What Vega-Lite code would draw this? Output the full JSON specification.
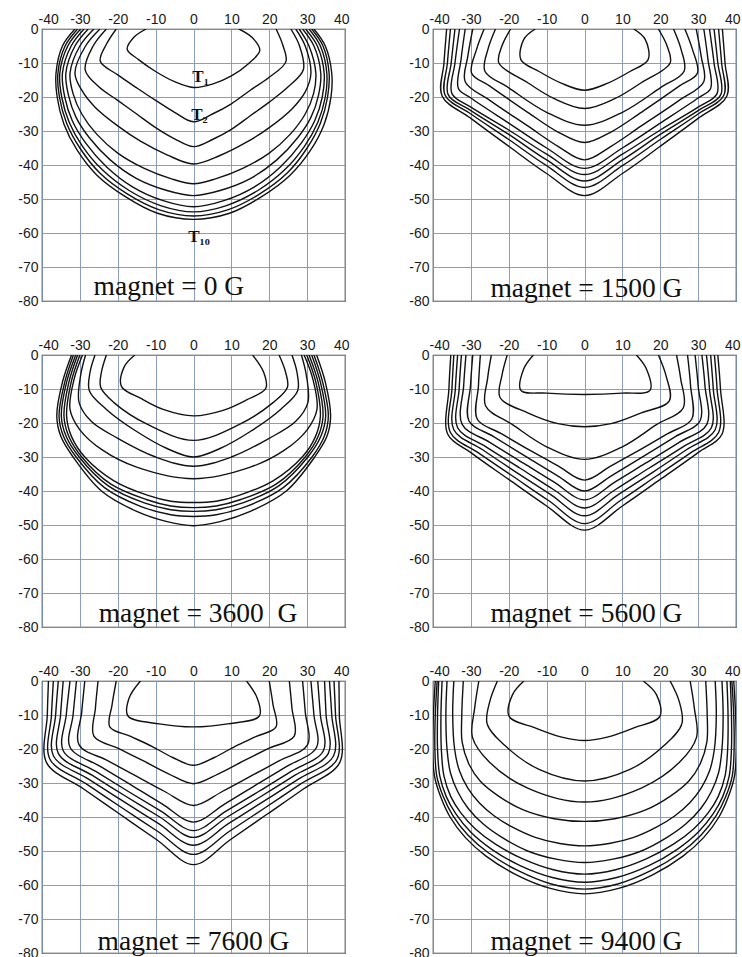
{
"$schema": "https://vega.github.io/schema/vega-lite/v6.json",
"background": "white",
"padding": {"left": 17, "top": 11, "right": 2, "bottom": 0},
"data": {"values": [
{"p":1,"c":1,"x":-12.5,"y":0},{"p":1,"c":1,"x":-15.8,"y":-2.5},{"p":1,"c":1,"x":-17.5,"y":-6},{"p":1,"c":1,"x":-14.5,"y":-9},{"p":1,"c":1,"x":-10,"y":-12.5},{"p":1,"c":1,"x":-5,"y":-15.5},{"p":1,"c":1,"x":0,"y":-17.2},{"p":1,"c":1,"x":5,"y":-16.2},{"p":1,"c":1,"x":10,"y":-13.8},{"p":1,"c":1,"x":14.5,"y":-10.2},{"p":1,"c":1,"x":17.5,"y":-6.3},{"p":1,"c":1,"x":15.5,"y":-2.5},{"p":1,"c":1,"x":12,"y":0},
{"p":1,"c":2,"x":-20.4,"y":0},{"p":1,"c":2,"x":-23,"y":-4.5},{"p":1,"c":2,"x":-24.6,"y":-9.5},{"p":1,"c":2,"x":-20,"y":-13.5},{"p":1,"c":2,"x":-15,"y":-17.3},{"p":1,"c":2,"x":-10,"y":-21},{"p":1,"c":2,"x":-5,"y":-24.5},{"p":1,"c":2,"x":0,"y":-27.3},{"p":1,"c":2,"x":5,"y":-25},{"p":1,"c":2,"x":10,"y":-22},{"p":1,"c":2,"x":15,"y":-18},{"p":1,"c":2,"x":20,"y":-14.2},{"p":1,"c":2,"x":24.4,"y":-9.6},{"p":1,"c":2,"x":23.5,"y":-4.5},{"p":1,"c":2,"x":21.8,"y":0},
{"p":1,"c":3,"x":-23,"y":0},{"p":1,"c":3,"x":-26.5,"y":-5},{"p":1,"c":3,"x":-28.6,"y":-12},{"p":1,"c":3,"x":-25,"y":-17},{"p":1,"c":3,"x":-20,"y":-21},{"p":1,"c":3,"x":-15,"y":-25},{"p":1,"c":3,"x":-10,"y":-29},{"p":1,"c":3,"x":-5,"y":-32.3},{"p":1,"c":3,"x":0,"y":-34.6},{"p":1,"c":3,"x":5,"y":-32.5},{"p":1,"c":3,"x":10,"y":-29.5},{"p":1,"c":3,"x":15,"y":-25.5},{"p":1,"c":3,"x":20,"y":-21.5},{"p":1,"c":3,"x":25,"y":-17},{"p":1,"c":3,"x":29,"y":-12},{"p":1,"c":3,"x":28,"y":-5},{"p":1,"c":3,"x":25.7,"y":0},
{"p":1,"c":4,"x":-24.7,"y":0},{"p":1,"c":4,"x":-28.5,"y":-5},{"p":1,"c":4,"x":-31.3,"y":-13},{"p":1,"c":4,"x":-29.5,"y":-18},{"p":1,"c":4,"x":-26,"y":-23},{"p":1,"c":4,"x":-20,"y":-28.5},{"p":1,"c":4,"x":-14,"y":-33},{"p":1,"c":4,"x":-7,"y":-37},{"p":1,"c":4,"x":0,"y":-39.7},{"p":1,"c":4,"x":7,"y":-37.2},{"p":1,"c":4,"x":14,"y":-33.3},{"p":1,"c":4,"x":20,"y":-29},{"p":1,"c":4,"x":26,"y":-23.5},{"p":1,"c":4,"x":29.5,"y":-18.5},{"p":1,"c":4,"x":31,"y":-13},{"p":1,"c":4,"x":29.5,"y":-5},{"p":1,"c":4,"x":27,"y":0},
{"p":1,"c":5,"x":-26.3,"y":0},{"p":1,"c":5,"x":-30,"y":-5},{"p":1,"c":5,"x":-32.6,"y":-13},{"p":1,"c":5,"x":-31.8,"y":-19},{"p":1,"c":5,"x":-29.5,"y":-25},{"p":1,"c":5,"x":-25.5,"y":-31},{"p":1,"c":5,"x":-20,"y":-36.5},{"p":1,"c":5,"x":-13,"y":-41},{"p":1,"c":5,"x":-6,"y":-44},{"p":1,"c":5,"x":0,"y":-45.5},{"p":1,"c":5,"x":6,"y":-44},{"p":1,"c":5,"x":13,"y":-41},{"p":1,"c":5,"x":20,"y":-36.5},{"p":1,"c":5,"x":25.5,"y":-31},{"p":1,"c":5,"x":29.5,"y":-25},{"p":1,"c":5,"x":31.7,"y":-19},{"p":1,"c":5,"x":32.3,"y":-13},{"p":1,"c":5,"x":30.5,"y":-5},{"p":1,"c":5,"x":27.9,"y":0},
{"p":1,"c":6,"x":-27.8,"y":0},{"p":1,"c":6,"x":-31.3,"y":-5},{"p":1,"c":6,"x":-33.7,"y":-13},{"p":1,"c":6,"x":-33,"y":-19.5},{"p":1,"c":6,"x":-31,"y":-26},{"p":1,"c":6,"x":-27.5,"y":-32},{"p":1,"c":6,"x":-22,"y":-38.5},{"p":1,"c":6,"x":-15,"y":-44},{"p":1,"c":6,"x":-7,"y":-47.5},{"p":1,"c":6,"x":0,"y":-49},{"p":1,"c":6,"x":7,"y":-47.5},{"p":1,"c":6,"x":15,"y":-44},{"p":1,"c":6,"x":22,"y":-38.5},{"p":1,"c":6,"x":27.5,"y":-32},{"p":1,"c":6,"x":31,"y":-26},{"p":1,"c":6,"x":33,"y":-19.5},{"p":1,"c":6,"x":33.6,"y":-13},{"p":1,"c":6,"x":31.8,"y":-5},{"p":1,"c":6,"x":28.8,"y":0},
{"p":1,"c":7,"x":-28.9,"y":0},{"p":1,"c":7,"x":-32.3,"y":-5},{"p":1,"c":7,"x":-34.6,"y":-13},{"p":1,"c":7,"x":-34,"y":-20},{"p":1,"c":7,"x":-32,"y":-27},{"p":1,"c":7,"x":-28.5,"y":-33.5},{"p":1,"c":7,"x":-23,"y":-40.5},{"p":1,"c":7,"x":-16,"y":-46.5},{"p":1,"c":7,"x":-8,"y":-50.5},{"p":1,"c":7,"x":0,"y":-52.3},{"p":1,"c":7,"x":8,"y":-50.5},{"p":1,"c":7,"x":16,"y":-46.5},{"p":1,"c":7,"x":23,"y":-40.5},{"p":1,"c":7,"x":28.5,"y":-33.5},{"p":1,"c":7,"x":32,"y":-27},{"p":1,"c":7,"x":34,"y":-20},{"p":1,"c":7,"x":34.5,"y":-13},{"p":1,"c":7,"x":32.7,"y":-5},{"p":1,"c":7,"x":29.6,"y":0},
{"p":1,"c":8,"x":-29.8,"y":0},{"p":1,"c":8,"x":-33.2,"y":-5},{"p":1,"c":8,"x":-35.3,"y":-13},{"p":1,"c":8,"x":-34.8,"y":-20},{"p":1,"c":8,"x":-32.8,"y":-27.5},{"p":1,"c":8,"x":-29.3,"y":-34.5},{"p":1,"c":8,"x":-24,"y":-41.5},{"p":1,"c":8,"x":-17,"y":-47.5},{"p":1,"c":8,"x":-8.5,"y":-52},{"p":1,"c":8,"x":0,"y":-53.8},{"p":1,"c":8,"x":8.5,"y":-52},{"p":1,"c":8,"x":17,"y":-47.5},{"p":1,"c":8,"x":24,"y":-41.5},{"p":1,"c":8,"x":29.3,"y":-34.5},{"p":1,"c":8,"x":32.8,"y":-27.5},{"p":1,"c":8,"x":34.8,"y":-20},{"p":1,"c":8,"x":35.2,"y":-13},{"p":1,"c":8,"x":33.5,"y":-5},{"p":1,"c":8,"x":30.5,"y":0},
{"p":1,"c":9,"x":-30.6,"y":0},{"p":1,"c":9,"x":-33.9,"y":-5},{"p":1,"c":9,"x":-35.8,"y":-13},{"p":1,"c":9,"x":-35.4,"y":-20},{"p":1,"c":9,"x":-33.5,"y":-27.7},{"p":1,"c":9,"x":-30,"y":-35},{"p":1,"c":9,"x":-24.8,"y":-42.3},{"p":1,"c":9,"x":-17.5,"y":-48.5},{"p":1,"c":9,"x":-9,"y":-53.2},{"p":1,"c":9,"x":0,"y":-55},{"p":1,"c":9,"x":9,"y":-53.2},{"p":1,"c":9,"x":17.5,"y":-48.5},{"p":1,"c":9,"x":24.8,"y":-42.3},{"p":1,"c":9,"x":30,"y":-35},{"p":1,"c":9,"x":33.5,"y":-27.7},{"p":1,"c":9,"x":35.4,"y":-20},{"p":1,"c":9,"x":35.8,"y":-13},{"p":1,"c":9,"x":34.2,"y":-5},{"p":1,"c":9,"x":31.2,"y":0},
{"p":1,"c":10,"x":-31.3,"y":0},{"p":1,"c":10,"x":-34.6,"y":-5},{"p":1,"c":10,"x":-36.3,"y":-13},{"p":1,"c":10,"x":-36,"y":-20},{"p":1,"c":10,"x":-34.2,"y":-28},{"p":1,"c":10,"x":-30.8,"y":-35.5},{"p":1,"c":10,"x":-25.5,"y":-43},{"p":1,"c":10,"x":-18,"y":-49.3},{"p":1,"c":10,"x":-9.5,"y":-54.2},{"p":1,"c":10,"x":0,"y":-56},{"p":1,"c":10,"x":9.5,"y":-54.2},{"p":1,"c":10,"x":18,"y":-49.3},{"p":1,"c":10,"x":25.5,"y":-43},{"p":1,"c":10,"x":31,"y":-35.5},{"p":1,"c":10,"x":34.5,"y":-28},{"p":1,"c":10,"x":36.3,"y":-20},{"p":1,"c":10,"x":36.5,"y":-13},{"p":1,"c":10,"x":34.8,"y":-5},{"p":1,"c":10,"x":31.8,"y":0},

{"p":2,"c":1,"x":-13,"y":0},{"p":2,"c":1,"x":-16,"y":-3},{"p":2,"c":1,"x":-16.8,"y":-9},{"p":2,"c":1,"x":-12,"y":-12.5},{"p":2,"c":1,"x":-6,"y":-16},{"p":2,"c":1,"x":0,"y":-18},{"p":2,"c":1,"x":6,"y":-16},{"p":2,"c":1,"x":12,"y":-12.5},{"p":2,"c":1,"x":16.8,"y":-9},{"p":2,"c":1,"x":16,"y":-3},{"p":2,"c":1,"x":13,"y":0},
{"p":2,"c":2,"x":-19.5,"y":0},{"p":2,"c":2,"x":-21.8,"y":-5},{"p":2,"c":2,"x":-22.6,"y":-10},{"p":2,"c":2,"x":-15,"y":-15.8},{"p":2,"c":2,"x":-8,"y":-20.5},{"p":2,"c":2,"x":0,"y":-23.4},{"p":2,"c":2,"x":8,"y":-20.5},{"p":2,"c":2,"x":15,"y":-15.8},{"p":2,"c":2,"x":22.6,"y":-10},{"p":2,"c":2,"x":21.8,"y":-5},{"p":2,"c":2,"x":19.5,"y":0},
{"p":2,"c":3,"x":-23.5,"y":0},{"p":2,"c":3,"x":-25.5,"y":-6},{"p":2,"c":3,"x":-26.3,"y":-12.4},{"p":2,"c":3,"x":-20,"y":-17.3},{"p":2,"c":3,"x":-10,"y":-24.5},{"p":2,"c":3,"x":0,"y":-28.3},{"p":2,"c":3,"x":10,"y":-24.5},{"p":2,"c":3,"x":20,"y":-17.3},{"p":2,"c":3,"x":26.3,"y":-12.4},{"p":2,"c":3,"x":25.5,"y":-6},{"p":2,"c":3,"x":23.5,"y":0},
{"p":2,"c":4,"x":-26.5,"y":0},{"p":2,"c":4,"x":-28.5,"y":-6},{"p":2,"c":4,"x":-29.8,"y":-13},{"p":2,"c":4,"x":-25,"y":-16.8},{"p":2,"c":4,"x":-15,"y":-24.5},{"p":2,"c":4,"x":-7,"y":-30.3},{"p":2,"c":4,"x":0,"y":-33.4},{"p":2,"c":4,"x":7,"y":-30.3},{"p":2,"c":4,"x":15,"y":-24.5},{"p":2,"c":4,"x":25,"y":-16.8},{"p":2,"c":4,"x":29.8,"y":-13},{"p":2,"c":4,"x":28.5,"y":-6},{"p":2,"c":4,"x":26.5,"y":0},
{"p":2,"c":5,"x":-29.5,"y":0},{"p":2,"c":5,"x":-30.8,"y":-8},{"p":2,"c":5,"x":-31.5,"y":-15.5},{"p":2,"c":5,"x":-25,"y":-21},{"p":2,"c":5,"x":-15,"y":-28.5},{"p":2,"c":5,"x":-7,"y":-34.5},{"p":2,"c":5,"x":0,"y":-38.5},{"p":2,"c":5,"x":7,"y":-34.5},{"p":2,"c":5,"x":15,"y":-28.5},{"p":2,"c":5,"x":25,"y":-21},{"p":2,"c":5,"x":31.5,"y":-15.5},{"p":2,"c":5,"x":30.8,"y":-8},{"p":2,"c":5,"x":29.5,"y":0},
{"p":2,"c":6,"x":-31.5,"y":0},{"p":2,"c":6,"x":-32.6,"y":-9},{"p":2,"c":6,"x":-33.3,"y":-17.5},{"p":2,"c":6,"x":-30,"y":-20.3},{"p":2,"c":6,"x":-20,"y":-27.7},{"p":2,"c":6,"x":-10,"y":-35},{"p":2,"c":6,"x":0,"y":-41},{"p":2,"c":6,"x":10,"y":-35},{"p":2,"c":6,"x":20,"y":-27.7},{"p":2,"c":6,"x":30,"y":-20.3},{"p":2,"c":6,"x":33.3,"y":-17.5},{"p":2,"c":6,"x":32.6,"y":-9},{"p":2,"c":6,"x":31.5,"y":0},
{"p":2,"c":7,"x":-33,"y":0},{"p":2,"c":7,"x":-34.2,"y":-10},{"p":2,"c":7,"x":-35,"y":-19},{"p":2,"c":7,"x":-30,"y":-23},{"p":2,"c":7,"x":-20,"y":-29.7},{"p":2,"c":7,"x":-10,"y":-36.8},{"p":2,"c":7,"x":0,"y":-42.8},{"p":2,"c":7,"x":10,"y":-36.8},{"p":2,"c":7,"x":20,"y":-29.7},{"p":2,"c":7,"x":30,"y":-23},{"p":2,"c":7,"x":35,"y":-19},{"p":2,"c":7,"x":34.2,"y":-10},{"p":2,"c":7,"x":33,"y":0},
{"p":2,"c":8,"x":-34.2,"y":0},{"p":2,"c":8,"x":-35.2,"y":-10},{"p":2,"c":8,"x":-36,"y":-19.3},{"p":2,"c":8,"x":-30,"y":-24},{"p":2,"c":8,"x":-20,"y":-31},{"p":2,"c":8,"x":-10,"y":-38.5},{"p":2,"c":8,"x":0,"y":-44.7},{"p":2,"c":8,"x":10,"y":-38.5},{"p":2,"c":8,"x":20,"y":-31},{"p":2,"c":8,"x":30,"y":-24},{"p":2,"c":8,"x":36,"y":-19.3},{"p":2,"c":8,"x":35.2,"y":-10},{"p":2,"c":8,"x":34.2,"y":0},
{"p":2,"c":9,"x":-35.4,"y":0},{"p":2,"c":9,"x":-36.2,"y":-10},{"p":2,"c":9,"x":-36.8,"y":-19.5},{"p":2,"c":9,"x":-30,"y":-25},{"p":2,"c":9,"x":-20,"y":-32.5},{"p":2,"c":9,"x":-10,"y":-40.2},{"p":2,"c":9,"x":0,"y":-46.6},{"p":2,"c":9,"x":10,"y":-40.2},{"p":2,"c":9,"x":20,"y":-32.5},{"p":2,"c":9,"x":30,"y":-25},{"p":2,"c":9,"x":36.8,"y":-19.5},{"p":2,"c":9,"x":36.2,"y":-10},{"p":2,"c":9,"x":35.4,"y":0},
{"p":2,"c":10,"x":-36.4,"y":0},{"p":2,"c":10,"x":-37.1,"y":-10},{"p":2,"c":10,"x":-37.6,"y":-19.7},{"p":2,"c":10,"x":-30,"y":-26.3},{"p":2,"c":10,"x":-20,"y":-34.5},{"p":2,"c":10,"x":-10,"y":-42.5},{"p":2,"c":10,"x":0,"y":-49},{"p":2,"c":10,"x":10,"y":-42.5},{"p":2,"c":10,"x":20,"y":-34.5},{"p":2,"c":10,"x":30,"y":-26.3},{"p":2,"c":10,"x":37.6,"y":-19.7},{"p":2,"c":10,"x":37.1,"y":-10},{"p":2,"c":10,"x":36.4,"y":0},

{"p":3,"c":1,"x":-15.5,"y":0},{"p":3,"c":1,"x":-18.3,"y":-3.5},{"p":3,"c":1,"x":-19,"y":-9.3},{"p":3,"c":1,"x":-14,"y":-12.7},{"p":3,"c":1,"x":-8,"y":-16},{"p":3,"c":1,"x":0,"y":-17.9},{"p":3,"c":1,"x":8,"y":-16.2},{"p":3,"c":1,"x":14,"y":-13.2},{"p":3,"c":1,"x":19.1,"y":-9.8},{"p":3,"c":1,"x":18.5,"y":-5},{"p":3,"c":1,"x":15.6,"y":0},
{"p":3,"c":2,"x":-23,"y":0},{"p":3,"c":2,"x":-24.3,"y":-5},{"p":3,"c":2,"x":-24.5,"y":-9.5},{"p":3,"c":2,"x":-21,"y":-14},{"p":3,"c":2,"x":-12,"y":-20.5},{"p":3,"c":2,"x":0,"y":-25.1},{"p":3,"c":2,"x":12,"y":-20.5},{"p":3,"c":2,"x":21,"y":-14},{"p":3,"c":2,"x":24.8,"y":-9.5},{"p":3,"c":2,"x":24.3,"y":-5},{"p":3,"c":2,"x":22.6,"y":0},
{"p":3,"c":3,"x":-26,"y":0},{"p":3,"c":3,"x":-27.3,"y":-5},{"p":3,"c":3,"x":-27.5,"y":-10.5},{"p":3,"c":3,"x":-23,"y":-16},{"p":3,"c":3,"x":-15,"y":-22.5},{"p":3,"c":3,"x":-7,"y":-27.5},{"p":3,"c":3,"x":0,"y":-30},{"p":3,"c":3,"x":7,"y":-27.5},{"p":3,"c":3,"x":15,"y":-22.5},{"p":3,"c":3,"x":23,"y":-16},{"p":3,"c":3,"x":27.5,"y":-10.5},{"p":3,"c":3,"x":27.3,"y":-5},{"p":3,"c":3,"x":26,"y":0},
{"p":3,"c":4,"x":-28.5,"y":0},{"p":3,"c":4,"x":-29.8,"y":-6},{"p":3,"c":4,"x":-30.2,"y":-14},{"p":3,"c":4,"x":-27,"y":-19.5},{"p":3,"c":4,"x":-20,"y":-24.5},{"p":3,"c":4,"x":-10,"y":-30},{"p":3,"c":4,"x":0,"y":-32.7},{"p":3,"c":4,"x":10,"y":-30},{"p":3,"c":4,"x":20,"y":-24.5},{"p":3,"c":4,"x":27,"y":-19.5},{"p":3,"c":4,"x":30.2,"y":-14},{"p":3,"c":4,"x":29.8,"y":-6},{"p":3,"c":4,"x":28.5,"y":0},
{"p":3,"c":5,"x":-29.3,"y":0},{"p":3,"c":5,"x":-31.5,"y":-7},{"p":3,"c":5,"x":-32.6,"y":-16},{"p":3,"c":5,"x":-30,"y":-22},{"p":3,"c":5,"x":-24,"y":-28},{"p":3,"c":5,"x":-15,"y":-33},{"p":3,"c":5,"x":0,"y":-36.4},{"p":3,"c":5,"x":15,"y":-33},{"p":3,"c":5,"x":24,"y":-28},{"p":3,"c":5,"x":30,"y":-22},{"p":3,"c":5,"x":32.6,"y":-16},{"p":3,"c":5,"x":31.5,"y":-7},{"p":3,"c":5,"x":29.2,"y":0},
{"p":3,"c":6,"x":-30,"y":0},{"p":3,"c":6,"x":-32.3,"y":-8},{"p":3,"c":6,"x":-33.5,"y":-18},{"p":3,"c":6,"x":-32.2,"y":-24},{"p":3,"c":6,"x":-28.7,"y":-30},{"p":3,"c":6,"x":-21,"y":-37},{"p":3,"c":6,"x":-12,"y":-41.3},{"p":3,"c":6,"x":-6,"y":-43},{"p":3,"c":6,"x":0,"y":-43.4},{"p":3,"c":6,"x":6,"y":-43},{"p":3,"c":6,"x":12,"y":-41.3},{"p":3,"c":6,"x":21,"y":-37},{"p":3,"c":6,"x":28.7,"y":-30},{"p":3,"c":6,"x":32.2,"y":-24},{"p":3,"c":6,"x":33.5,"y":-18},{"p":3,"c":6,"x":32.3,"y":-8},{"p":3,"c":6,"x":29.9,"y":0},
{"p":3,"c":7,"x":-30.6,"y":0},{"p":3,"c":7,"x":-32.9,"y":-8},{"p":3,"c":7,"x":-34.2,"y":-18},{"p":3,"c":7,"x":-32.9,"y":-24},{"p":3,"c":7,"x":-29.5,"y":-30},{"p":3,"c":7,"x":-21.8,"y":-38},{"p":3,"c":7,"x":-12.5,"y":-42.5},{"p":3,"c":7,"x":-6,"y":-44.4},{"p":3,"c":7,"x":0,"y":-44.9},{"p":3,"c":7,"x":6,"y":-44.4},{"p":3,"c":7,"x":12.5,"y":-42.5},{"p":3,"c":7,"x":21.8,"y":-38},{"p":3,"c":7,"x":29.5,"y":-30},{"p":3,"c":7,"x":32.9,"y":-24},{"p":3,"c":7,"x":34.2,"y":-18},{"p":3,"c":7,"x":32.9,"y":-8},{"p":3,"c":7,"x":30.5,"y":0},
{"p":3,"c":8,"x":-31.1,"y":0},{"p":3,"c":8,"x":-33.5,"y":-8},{"p":3,"c":8,"x":-34.9,"y":-18},{"p":3,"c":8,"x":-33.6,"y":-24},{"p":3,"c":8,"x":-30.2,"y":-30},{"p":3,"c":8,"x":-22.5,"y":-38.5},{"p":3,"c":8,"x":-13,"y":-43.5},{"p":3,"c":8,"x":-6,"y":-45.5},{"p":3,"c":8,"x":0,"y":-46},{"p":3,"c":8,"x":6,"y":-45.5},{"p":3,"c":8,"x":13,"y":-43.5},{"p":3,"c":8,"x":22.5,"y":-38.5},{"p":3,"c":8,"x":30.2,"y":-30},{"p":3,"c":8,"x":33.6,"y":-24},{"p":3,"c":8,"x":34.9,"y":-18},{"p":3,"c":8,"x":33.5,"y":-8},{"p":3,"c":8,"x":31.2,"y":0},
{"p":3,"c":9,"x":-31.7,"y":0},{"p":3,"c":9,"x":-34,"y":-8},{"p":3,"c":9,"x":-35.5,"y":-18},{"p":3,"c":9,"x":-34.3,"y":-24},{"p":3,"c":9,"x":-31,"y":-30},{"p":3,"c":9,"x":-23.5,"y":-39},{"p":3,"c":9,"x":-14,"y":-44.5},{"p":3,"c":9,"x":-6,"y":-47},{"p":3,"c":9,"x":0,"y":-47.5},{"p":3,"c":9,"x":6,"y":-47},{"p":3,"c":9,"x":14,"y":-44.5},{"p":3,"c":9,"x":23.7,"y":-39},{"p":3,"c":9,"x":31.3,"y":-30},{"p":3,"c":9,"x":34.5,"y":-24},{"p":3,"c":9,"x":35.6,"y":-18},{"p":3,"c":9,"x":34.1,"y":-8},{"p":3,"c":9,"x":31.8,"y":0},
{"p":3,"c":10,"x":-32.2,"y":0},{"p":3,"c":10,"x":-34.6,"y":-8},{"p":3,"c":10,"x":-36.1,"y":-18},{"p":3,"c":10,"x":-35,"y":-24},{"p":3,"c":10,"x":-31.8,"y":-30},{"p":3,"c":10,"x":-24.3,"y":-40},{"p":3,"c":10,"x":-15,"y":-46},{"p":3,"c":10,"x":-7,"y":-49},{"p":3,"c":10,"x":0,"y":-50.2},{"p":3,"c":10,"x":7,"y":-49},{"p":3,"c":10,"x":15,"y":-46},{"p":3,"c":10,"x":24.5,"y":-40},{"p":3,"c":10,"x":32,"y":-30},{"p":3,"c":10,"x":35.2,"y":-24},{"p":3,"c":10,"x":36.2,"y":-18},{"p":3,"c":10,"x":34.8,"y":-8},{"p":3,"c":10,"x":32.5,"y":0},

{"p":4,"c":1,"x":-13.5,"y":0},{"p":4,"c":1,"x":-16,"y":-4},{"p":4,"c":1,"x":-16.8,"y":-10.4},{"p":4,"c":1,"x":-10,"y":-11.2},{"p":4,"c":1,"x":0,"y":-11.6},{"p":4,"c":1,"x":10,"y":-11.2},{"p":4,"c":1,"x":17.3,"y":-10.4},{"p":4,"c":1,"x":16.3,"y":-4},{"p":4,"c":1,"x":13.7,"y":0},
{"p":4,"c":2,"x":-20.4,"y":0},{"p":4,"c":2,"x":-21.8,"y":-6},{"p":4,"c":2,"x":-22.3,"y":-12.5},{"p":4,"c":2,"x":-15,"y":-17},{"p":4,"c":2,"x":-7,"y":-20.2},{"p":4,"c":2,"x":0,"y":-21.1},{"p":4,"c":2,"x":7,"y":-20.2},{"p":4,"c":2,"x":15,"y":-17},{"p":4,"c":2,"x":22.4,"y":-13.5},{"p":4,"c":2,"x":21.5,"y":-6},{"p":4,"c":2,"x":19.5,"y":0},
{"p":4,"c":3,"x":-24.6,"y":0},{"p":4,"c":3,"x":-25.6,"y":-7},{"p":4,"c":3,"x":-26.1,"y":-15},{"p":4,"c":3,"x":-19,"y":-20.5},{"p":4,"c":3,"x":-10,"y":-27},{"p":4,"c":3,"x":0,"y":-30.7},{"p":4,"c":3,"x":10,"y":-27},{"p":4,"c":3,"x":19,"y":-20.5},{"p":4,"c":3,"x":26.1,"y":-15.5},{"p":4,"c":3,"x":25.4,"y":-7},{"p":4,"c":3,"x":24.3,"y":0},
{"p":4,"c":4,"x":-27.5,"y":0},{"p":4,"c":4,"x":-28,"y":-9},{"p":4,"c":4,"x":-28.3,"y":-18.9},{"p":4,"c":4,"x":-22,"y":-23.1},{"p":4,"c":4,"x":-14,"y":-28.3},{"p":4,"c":4,"x":-7,"y":-32.6},{"p":4,"c":4,"x":0,"y":-36.8},{"p":4,"c":4,"x":7,"y":-32.6},{"p":4,"c":4,"x":14,"y":-28.3},{"p":4,"c":4,"x":22,"y":-23.1},{"p":4,"c":4,"x":28.3,"y":-18.9},{"p":4,"c":4,"x":28,"y":-9},{"p":4,"c":4,"x":27.2,"y":0},
{"p":4,"c":5,"x":-29.5,"y":0},{"p":4,"c":5,"x":-30.1,"y":-9},{"p":4,"c":5,"x":-30.5,"y":-19.4},{"p":4,"c":5,"x":-24,"y":-24},{"p":4,"c":5,"x":-15,"y":-30.2},{"p":4,"c":5,"x":-7,"y":-35.6},{"p":4,"c":5,"x":0,"y":-40},{"p":4,"c":5,"x":7,"y":-35.6},{"p":4,"c":5,"x":15,"y":-30.2},{"p":4,"c":5,"x":24,"y":-24},{"p":4,"c":5,"x":30.5,"y":-19.4},{"p":4,"c":5,"x":30,"y":-9},{"p":4,"c":5,"x":29.2,"y":0},
{"p":4,"c":6,"x":-31.3,"y":0},{"p":4,"c":6,"x":-31.9,"y":-9},{"p":4,"c":6,"x":-32.3,"y":-20.4},{"p":4,"c":6,"x":-25,"y":-25.7},{"p":4,"c":6,"x":-16,"y":-31.9},{"p":4,"c":6,"x":-8,"y":-37.4},{"p":4,"c":6,"x":0,"y":-42.6},{"p":4,"c":6,"x":8,"y":-37.4},{"p":4,"c":6,"x":16,"y":-31.9},{"p":4,"c":6,"x":25,"y":-25.7},{"p":4,"c":6,"x":32.3,"y":-20.4},{"p":4,"c":6,"x":31.8,"y":-9},{"p":4,"c":6,"x":31,"y":0},
{"p":4,"c":7,"x":-32.5,"y":0},{"p":4,"c":7,"x":-33.1,"y":-10},{"p":4,"c":7,"x":-33.5,"y":-21.4},{"p":4,"c":7,"x":-26,"y":-27},{"p":4,"c":7,"x":-17,"y":-33.3},{"p":4,"c":7,"x":-8,"y":-39.7},{"p":4,"c":7,"x":0,"y":-45},{"p":4,"c":7,"x":8,"y":-39.7},{"p":4,"c":7,"x":17,"y":-33.3},{"p":4,"c":7,"x":26,"y":-27},{"p":4,"c":7,"x":33.5,"y":-21.4},{"p":4,"c":7,"x":33,"y":-10},{"p":4,"c":7,"x":32.2,"y":0},
{"p":4,"c":8,"x":-33.5,"y":0},{"p":4,"c":8,"x":-34.1,"y":-10},{"p":4,"c":8,"x":-34.5,"y":-22},{"p":4,"c":8,"x":-27,"y":-27.8},{"p":4,"c":8,"x":-18,"y":-34.5},{"p":4,"c":8,"x":-9,"y":-41},{"p":4,"c":8,"x":0,"y":-47.3},{"p":4,"c":8,"x":9,"y":-41},{"p":4,"c":8,"x":18,"y":-34.5},{"p":4,"c":8,"x":27,"y":-27.8},{"p":4,"c":8,"x":34.5,"y":-22},{"p":4,"c":8,"x":34,"y":-10},{"p":4,"c":8,"x":33.3,"y":0},
{"p":4,"c":9,"x":-34.5,"y":0},{"p":4,"c":9,"x":-35,"y":-10},{"p":4,"c":9,"x":-35.4,"y":-22.8},{"p":4,"c":9,"x":-28,"y":-28.8},{"p":4,"c":9,"x":-19,"y":-35.6},{"p":4,"c":9,"x":-9.5,"y":-42.8},{"p":4,"c":9,"x":0,"y":-49.6},{"p":4,"c":9,"x":9.5,"y":-42.8},{"p":4,"c":9,"x":19,"y":-35.6},{"p":4,"c":9,"x":28,"y":-28.8},{"p":4,"c":9,"x":35.4,"y":-22.8},{"p":4,"c":9,"x":35,"y":-10},{"p":4,"c":9,"x":34.3,"y":0},
{"p":4,"c":10,"x":-35.3,"y":0},{"p":4,"c":10,"x":-35.8,"y":-10},{"p":4,"c":10,"x":-36.1,"y":-23.3},{"p":4,"c":10,"x":-30,"y":-28.7},{"p":4,"c":10,"x":-20,"y":-36.6},{"p":4,"c":10,"x":-10,"y":-44.4},{"p":4,"c":10,"x":0,"y":-51.5},{"p":4,"c":10,"x":10,"y":-44.4},{"p":4,"c":10,"x":20,"y":-36.6},{"p":4,"c":10,"x":30,"y":-28.7},{"p":4,"c":10,"x":36.3,"y":-23.3},{"p":4,"c":10,"x":35.9,"y":-10},{"p":4,"c":10,"x":35.2,"y":0},

{"p":5,"c":1,"x":-14,"y":0},{"p":5,"c":1,"x":-17,"y":-5},{"p":5,"c":1,"x":-17.3,"y":-10.3},{"p":5,"c":1,"x":-9,"y":-12.6},{"p":5,"c":1,"x":0,"y":-13.5},{"p":5,"c":1,"x":9,"y":-12.6},{"p":5,"c":1,"x":17.4,"y":-10.3},{"p":5,"c":1,"x":16.8,"y":-5},{"p":5,"c":1,"x":14,"y":0},
{"p":5,"c":2,"x":-20.4,"y":0},{"p":5,"c":2,"x":-21.5,"y":-7},{"p":5,"c":2,"x":-22.1,"y":-13.5},{"p":5,"c":2,"x":-16.6,"y":-16.3},{"p":5,"c":2,"x":-11,"y":-19.2},{"p":5,"c":2,"x":-5.5,"y":-22.5},{"p":5,"c":2,"x":0,"y":-24.8},{"p":5,"c":2,"x":5.5,"y":-22.5},{"p":5,"c":2,"x":11,"y":-19.2},{"p":5,"c":2,"x":16.6,"y":-16.3},{"p":5,"c":2,"x":21.8,"y":-13.5},{"p":5,"c":2,"x":21,"y":-7},{"p":5,"c":2,"x":20,"y":0},
{"p":5,"c":3,"x":-25.2,"y":0},{"p":5,"c":3,"x":-25.9,"y":-8},{"p":5,"c":3,"x":-26.3,"y":-16.2},{"p":5,"c":3,"x":-19.7,"y":-19.9},{"p":5,"c":3,"x":-13.2,"y":-23.5},{"p":5,"c":3,"x":-6.6,"y":-27.3},{"p":5,"c":3,"x":0,"y":-30.2},{"p":5,"c":3,"x":6.6,"y":-27.3},{"p":5,"c":3,"x":13.2,"y":-23.5},{"p":5,"c":3,"x":19.7,"y":-19.9},{"p":5,"c":3,"x":26.6,"y":-16.2},{"p":5,"c":3,"x":26,"y":-8},{"p":5,"c":3,"x":25.3,"y":0},
{"p":5,"c":4,"x":-28.7,"y":0},{"p":5,"c":4,"x":-29.5,"y":-9},{"p":5,"c":4,"x":-30.2,"y":-18.8},{"p":5,"c":4,"x":-22.7,"y":-23.4},{"p":5,"c":4,"x":-15.1,"y":-28},{"p":5,"c":4,"x":-7.6,"y":-32.5},{"p":5,"c":4,"x":0,"y":-36.6},{"p":5,"c":4,"x":7.6,"y":-32.5},{"p":5,"c":4,"x":15.1,"y":-28},{"p":5,"c":4,"x":22.7,"y":-23.4},{"p":5,"c":4,"x":30.1,"y":-18.8},{"p":5,"c":4,"x":29.5,"y":-9},{"p":5,"c":4,"x":28.8,"y":0},
{"p":5,"c":5,"x":-30.9,"y":0},{"p":5,"c":5,"x":-31.8,"y":-10},{"p":5,"c":5,"x":-32.6,"y":-19.5},{"p":5,"c":5,"x":-24.5,"y":-25.2},{"p":5,"c":5,"x":-16.3,"y":-30.7},{"p":5,"c":5,"x":-8.2,"y":-36.2},{"p":5,"c":5,"x":0,"y":-41.5},{"p":5,"c":5,"x":8.2,"y":-36.2},{"p":5,"c":5,"x":16.3,"y":-30.7},{"p":5,"c":5,"x":24.5,"y":-25.2},{"p":5,"c":5,"x":32.5,"y":-19.5},{"p":5,"c":5,"x":31.8,"y":-10},{"p":5,"c":5,"x":31,"y":0},
{"p":5,"c":6,"x":-32.6,"y":0},{"p":5,"c":6,"x":-33.6,"y":-10},{"p":5,"c":6,"x":-34.4,"y":-20.5},{"p":5,"c":6,"x":-25.8,"y":-26.6},{"p":5,"c":6,"x":-17.2,"y":-32.5},{"p":5,"c":6,"x":-8.6,"y":-38.3},{"p":5,"c":6,"x":0,"y":-44},{"p":5,"c":6,"x":8.6,"y":-38.3},{"p":5,"c":6,"x":17.2,"y":-32.5},{"p":5,"c":6,"x":25.8,"y":-26.6},{"p":5,"c":6,"x":34.3,"y":-20.5},{"p":5,"c":6,"x":33.5,"y":-10},{"p":5,"c":6,"x":32.8,"y":0},
{"p":5,"c":7,"x":-34.4,"y":0},{"p":5,"c":7,"x":-35.1,"y":-10},{"p":5,"c":7,"x":-35.7,"y":-21.3},{"p":5,"c":7,"x":-26.8,"y":-27.7},{"p":5,"c":7,"x":-17.9,"y":-33.9},{"p":5,"c":7,"x":-8.9,"y":-40},{"p":5,"c":7,"x":0,"y":-46},{"p":5,"c":7,"x":8.9,"y":-40},{"p":5,"c":7,"x":17.9,"y":-33.9},{"p":5,"c":7,"x":26.8,"y":-27.7},{"p":5,"c":7,"x":35.6,"y":-21.3},{"p":5,"c":7,"x":35,"y":-10},{"p":5,"c":7,"x":34.6,"y":0},
{"p":5,"c":8,"x":-35.7,"y":0},{"p":5,"c":8,"x":-36.4,"y":-10},{"p":5,"c":8,"x":-37,"y":-22},{"p":5,"c":8,"x":-27.8,"y":-28.8},{"p":5,"c":8,"x":-18.5,"y":-35.4},{"p":5,"c":8,"x":-9.3,"y":-41.9},{"p":5,"c":8,"x":0,"y":-48.3},{"p":5,"c":8,"x":9.3,"y":-41.9},{"p":5,"c":8,"x":18.5,"y":-35.4},{"p":5,"c":8,"x":27.8,"y":-28.8},{"p":5,"c":8,"x":37,"y":-22},{"p":5,"c":8,"x":36.5,"y":-10},{"p":5,"c":8,"x":35.9,"y":0},
{"p":5,"c":9,"x":-37,"y":0},{"p":5,"c":9,"x":-37.5,"y":-10},{"p":5,"c":9,"x":-37.9,"y":-23},{"p":5,"c":9,"x":-28.4,"y":-30.2},{"p":5,"c":9,"x":-19,"y":-37.2},{"p":5,"c":9,"x":-9.5,"y":-44.2},{"p":5,"c":9,"x":0,"y":-51},{"p":5,"c":9,"x":9.5,"y":-44.2},{"p":5,"c":9,"x":19,"y":-37.2},{"p":5,"c":9,"x":28.4,"y":-30.2},{"p":5,"c":9,"x":37.9,"y":-23},{"p":5,"c":9,"x":37.5,"y":-10},{"p":5,"c":9,"x":37.1,"y":0},
{"p":5,"c":10,"x":-38.3,"y":0},{"p":5,"c":10,"x":-38.6,"y":-10},{"p":5,"c":10,"x":-38.8,"y":-24},{"p":5,"c":10,"x":-29.1,"y":-31.7},{"p":5,"c":10,"x":-19.4,"y":-39.2},{"p":5,"c":10,"x":-9.7,"y":-46.7},{"p":5,"c":10,"x":0,"y":-54},{"p":5,"c":10,"x":9.7,"y":-46.7},{"p":5,"c":10,"x":19.4,"y":-39.2},{"p":5,"c":10,"x":29.1,"y":-31.7},{"p":5,"c":10,"x":38.6,"y":-24},{"p":5,"c":10,"x":38.5,"y":-10},{"p":5,"c":10,"x":38.4,"y":0},

{"p":6,"c":1,"x":-16,"y":0},{"p":6,"c":1,"x":-19,"y":-4},{"p":6,"c":1,"x":-19.9,"y":-10.4},{"p":6,"c":1,"x":-13,"y":-13.8},{"p":6,"c":1,"x":-6,"y":-16.5},{"p":6,"c":1,"x":0,"y":-17.5},{"p":6,"c":1,"x":6,"y":-16.5},{"p":6,"c":1,"x":13,"y":-13.8},{"p":6,"c":1,"x":19.9,"y":-10.4},{"p":6,"c":1,"x":19,"y":-4},{"p":6,"c":1,"x":15.5,"y":0},
{"p":6,"c":2,"x":-23,"y":0},{"p":6,"c":2,"x":-25,"y":-6},{"p":6,"c":2,"x":-25.7,"y":-12.6},{"p":6,"c":2,"x":-21,"y":-19},{"p":6,"c":2,"x":-12,"y":-26},{"p":6,"c":2,"x":0,"y":-29.4},{"p":6,"c":2,"x":12,"y":-26},{"p":6,"c":2,"x":21,"y":-19},{"p":6,"c":2,"x":25.7,"y":-12.6},{"p":6,"c":2,"x":25,"y":-6},{"p":6,"c":2,"x":22.6,"y":0},
{"p":6,"c":3,"x":-27.9,"y":0},{"p":6,"c":3,"x":-29,"y":-8},{"p":6,"c":3,"x":-29.6,"y":-16.5},{"p":6,"c":3,"x":-25,"y":-24},{"p":6,"c":3,"x":-15,"y":-31.5},{"p":6,"c":3,"x":0,"y":-35.6},{"p":6,"c":3,"x":15,"y":-31.5},{"p":6,"c":3,"x":25,"y":-24},{"p":6,"c":3,"x":29.6,"y":-16.5},{"p":6,"c":3,"x":29,"y":-8},{"p":6,"c":3,"x":27.9,"y":0},
{"p":6,"c":4,"x":-32,"y":0},{"p":6,"c":4,"x":-32.4,"y":-10},{"p":6,"c":4,"x":-32.3,"y":-18},{"p":6,"c":4,"x":-30.5,"y":-24.5},{"p":6,"c":4,"x":-27.5,"y":-29.5},{"p":6,"c":4,"x":-22.5,"y":-34},{"p":6,"c":4,"x":-16,"y":-38},{"p":6,"c":4,"x":-8,"y":-40.5},{"p":6,"c":4,"x":0,"y":-41.3},{"p":6,"c":4,"x":8,"y":-40.5},{"p":6,"c":4,"x":16,"y":-38},{"p":6,"c":4,"x":22.5,"y":-34},{"p":6,"c":4,"x":27.5,"y":-29.5},{"p":6,"c":4,"x":30.5,"y":-24.5},{"p":6,"c":4,"x":32.3,"y":-18},{"p":6,"c":4,"x":32.4,"y":-10},{"p":6,"c":4,"x":32,"y":0},
{"p":6,"c":5,"x":-34.5,"y":0},{"p":6,"c":5,"x":-34.8,"y":-10},{"p":6,"c":5,"x":-34.3,"y":-20},{"p":6,"c":5,"x":-33,"y":-26.5},{"p":6,"c":5,"x":-30.8,"y":-31.5},{"p":6,"c":5,"x":-27.8,"y":-35.8},{"p":6,"c":5,"x":-23.8,"y":-39.7},{"p":6,"c":5,"x":-19,"y":-43},{"p":6,"c":5,"x":-13,"y":-46},{"p":6,"c":5,"x":-6.5,"y":-47.8},{"p":6,"c":5,"x":0,"y":-48.5},{"p":6,"c":5,"x":6.5,"y":-47.8},{"p":6,"c":5,"x":13,"y":-46},{"p":6,"c":5,"x":19,"y":-43},{"p":6,"c":5,"x":23.8,"y":-39.7},{"p":6,"c":5,"x":27.8,"y":-35.8},{"p":6,"c":5,"x":30.8,"y":-31.5},{"p":6,"c":5,"x":33,"y":-26.5},{"p":6,"c":5,"x":34.3,"y":-20},{"p":6,"c":5,"x":34.8,"y":-10},{"p":6,"c":5,"x":34.5,"y":0},
{"p":6,"c":6,"x":-36.3,"y":0},{"p":6,"c":6,"x":-36.6,"y":-10},{"p":6,"c":6,"x":-36.3,"y":-20},{"p":6,"c":6,"x":-35.4,"y":-27},{"p":6,"c":6,"x":-33.5,"y":-32.5},{"p":6,"c":6,"x":-30.7,"y":-37.5},{"p":6,"c":6,"x":-26.8,"y":-42},{"p":6,"c":6,"x":-21.8,"y":-46},{"p":6,"c":6,"x":-15,"y":-50},{"p":6,"c":6,"x":-7.5,"y":-52.4},{"p":6,"c":6,"x":0,"y":-53.4},{"p":6,"c":6,"x":7.5,"y":-52.4},{"p":6,"c":6,"x":15,"y":-50},{"p":6,"c":6,"x":21.8,"y":-46},{"p":6,"c":6,"x":26.8,"y":-42},{"p":6,"c":6,"x":30.7,"y":-37.5},{"p":6,"c":6,"x":33.5,"y":-32.5},{"p":6,"c":6,"x":35.4,"y":-27},{"p":6,"c":6,"x":36.3,"y":-20},{"p":6,"c":6,"x":36.6,"y":-10},{"p":6,"c":6,"x":36.3,"y":0},
{"p":6,"c":7,"x":-37.6,"y":0},{"p":6,"c":7,"x":-37.9,"y":-10},{"p":6,"c":7,"x":-37.8,"y":-20},{"p":6,"c":7,"x":-37.1,"y":-28},{"p":6,"c":7,"x":-35.3,"y":-34},{"p":6,"c":7,"x":-32.7,"y":-38.7},{"p":6,"c":7,"x":-28.8,"y":-43.5},{"p":6,"c":7,"x":-23.5,"y":-48},{"p":6,"c":7,"x":-16.3,"y":-52.3},{"p":6,"c":7,"x":-8.2,"y":-55.5},{"p":6,"c":7,"x":0,"y":-56.8},{"p":6,"c":7,"x":8.2,"y":-55.5},{"p":6,"c":7,"x":16.3,"y":-52.3},{"p":6,"c":7,"x":23.5,"y":-48},{"p":6,"c":7,"x":28.8,"y":-43.5},{"p":6,"c":7,"x":32.7,"y":-38.7},{"p":6,"c":7,"x":35.3,"y":-34},{"p":6,"c":7,"x":37.1,"y":-28},{"p":6,"c":7,"x":37.8,"y":-20},{"p":6,"c":7,"x":37.9,"y":-10},{"p":6,"c":7,"x":37.6,"y":0},
{"p":6,"c":8,"x":-38.5,"y":0},{"p":6,"c":8,"x":-38.8,"y":-10},{"p":6,"c":8,"x":-38.8,"y":-20},{"p":6,"c":8,"x":-38.2,"y":-28},{"p":6,"c":8,"x":-36.5,"y":-34},{"p":6,"c":8,"x":-34,"y":-39},{"p":6,"c":8,"x":-30,"y":-44.5},{"p":6,"c":8,"x":-24.5,"y":-49.5},{"p":6,"c":8,"x":-17,"y":-54.3},{"p":6,"c":8,"x":-8.5,"y":-57.8},{"p":6,"c":8,"x":0,"y":-59.2},{"p":6,"c":8,"x":8.5,"y":-57.8},{"p":6,"c":8,"x":17,"y":-54.3},{"p":6,"c":8,"x":24.5,"y":-49.5},{"p":6,"c":8,"x":30,"y":-44.5},{"p":6,"c":8,"x":34,"y":-39},{"p":6,"c":8,"x":36.5,"y":-34},{"p":6,"c":8,"x":38.2,"y":-28},{"p":6,"c":8,"x":38.8,"y":-20},{"p":6,"c":8,"x":38.8,"y":-10},{"p":6,"c":8,"x":38.5,"y":0},
{"p":6,"c":9,"x":-38.9,"y":0},{"p":6,"c":9,"x":-39.4,"y":-10},{"p":6,"c":9,"x":-39.5,"y":-20},{"p":6,"c":9,"x":-39,"y":-28},{"p":6,"c":9,"x":-37.3,"y":-34},{"p":6,"c":9,"x":-34.8,"y":-39.5},{"p":6,"c":9,"x":-30.8,"y":-45.3},{"p":6,"c":9,"x":-25.3,"y":-50.6},{"p":6,"c":9,"x":-17.5,"y":-55.8},{"p":6,"c":9,"x":-8.8,"y":-59.7},{"p":6,"c":9,"x":0,"y":-61.2},{"p":6,"c":9,"x":8.8,"y":-59.7},{"p":6,"c":9,"x":17.5,"y":-55.8},{"p":6,"c":9,"x":25.3,"y":-50.6},{"p":6,"c":9,"x":30.8,"y":-45.3},{"p":6,"c":9,"x":34.8,"y":-39.5},{"p":6,"c":9,"x":37.3,"y":-34},{"p":6,"c":9,"x":39,"y":-28},{"p":6,"c":9,"x":39.5,"y":-20},{"p":6,"c":9,"x":39.4,"y":-10},{"p":6,"c":9,"x":38.9,"y":0},
{"p":6,"c":10,"x":-39.4,"y":0},{"p":6,"c":10,"x":-39.9,"y":-10},{"p":6,"c":10,"x":-40.1,"y":-20},{"p":6,"c":10,"x":-39.6,"y":-28},{"p":6,"c":10,"x":-38,"y":-34},{"p":6,"c":10,"x":-35.5,"y":-40},{"p":6,"c":10,"x":-31.5,"y":-46},{"p":6,"c":10,"x":-26,"y":-51.5},{"p":6,"c":10,"x":-18,"y":-57},{"p":6,"c":10,"x":-9,"y":-61},{"p":6,"c":10,"x":0,"y":-62.6},{"p":6,"c":10,"x":9,"y":-61},{"p":6,"c":10,"x":18,"y":-57},{"p":6,"c":10,"x":26,"y":-51.5},{"p":6,"c":10,"x":31.5,"y":-46},{"p":6,"c":10,"x":35.5,"y":-40},{"p":6,"c":10,"x":38,"y":-34},{"p":6,"c":10,"x":39.6,"y":-28},{"p":6,"c":10,"x":40.1,"y":-20},{"p":6,"c":10,"x":39.9,"y":-10},{"p":6,"c":10,"x":39.4,"y":0},

{"p":1,"k":"m","t":"magnet = 0 G","x":-6.5,"y":-78.2},
{"p":2,"k":"m","t":"magnet = 1500 G","x":0.5,"y":-78.8},
{"p":3,"k":"m","t":"magnet = 3600\u00a0 G","x":1.2,"y":-78.6},
{"p":4,"k":"m","t":"magnet = 5600 G","x":0.5,"y":-78.5},
{"p":5,"k":"m","t":"magnet = 7600 G","x":0,"y":-79},
{"p":6,"k":"m","t":"magnet = 9400 G","x":0.5,"y":-79},
{"p":1,"k":"T","t":"T₁","x":-0.3,"y":-15.5},
{"p":1,"k":"T","t":"T₂","x":-0.6,"y":-26.8},
{"p":1,"k":"T","t":"T₁₀","x":-1.4,"y":-62.5}
]},
"columns": 2,
"spacing": {"row": 28, "column": 58},
"concat": [
 {"transform": [{"filter": "datum.p == 1"}], "width": 303, "height": 272,
  "encoding": {
    "x": {"field": "x", "type": "quantitative", "scale": {"domain": [-40, 40], "nice": false, "zero": false}, "axis": {"orient": "top", "values": [-40,-30,-20,-10,0,10,20,30,40], "labelExpr": "'' + datum.value", "labelFlush": true, "labelFlushOffset": 4, "labelPadding": 3}},
    "y": {"field": "y", "type": "quantitative", "scale": {"domain": [-80, 0], "nice": false, "zero": false}, "axis": {"values": [0,-10,-20,-30,-40,-50,-60,-70,-80], "labelExpr": "'' + datum.value", "labelPadding": 4}}},
  "layer": [
    {"transform": [{"filter": "!datum.k"}], "mark": {"type": "line", "color": "#111111", "strokeWidth": 1.4, "interpolate": "catmull-rom", "clip": true}, "encoding": {"detail": {"field": "c", "type": "nominal"}, "order": {"value": null}}},
    {"transform": [{"filter": "datum.k == 'm'"}], "mark": {"type": "text", "font": "Liberation Serif", "fontSize": 27.5, "color": "#111111", "align": "center", "baseline": "alphabetic"}, "encoding": {"text": {"field": "t"}}},
    {"transform": [{"filter": "datum.k == 'T'"}], "mark": {"type": "text", "font": "Liberation Serif", "fontSize": 17, "fontWeight": "bold", "color": "#111111", "align": "left", "baseline": "alphabetic"}, "encoding": {"text": {"field": "t"}}}]},
 {"transform": [{"filter": "datum.p == 2"}], "width": 303, "height": 272,
  "encoding": {
    "x": {"field": "x", "type": "quantitative", "scale": {"domain": [-40, 40], "nice": false, "zero": false}, "axis": {"orient": "top", "values": [-40,-30,-20,-10,0,10,20,30,40], "labelExpr": "'' + datum.value", "labelFlush": true, "labelFlushOffset": 4, "labelPadding": 3}},
    "y": {"field": "y", "type": "quantitative", "scale": {"domain": [-80, 0], "nice": false, "zero": false}, "axis": {"values": [0,-10,-20,-30,-40,-50,-60,-70,-80], "labelExpr": "'' + datum.value", "labelPadding": 4}}},
  "layer": [
    {"transform": [{"filter": "!datum.k"}], "mark": {"type": "line", "color": "#111111", "strokeWidth": 1.4, "interpolate": "catmull-rom", "clip": true}, "encoding": {"detail": {"field": "c", "type": "nominal"}, "order": {"value": null}}},
    {"transform": [{"filter": "datum.k == 'm'"}], "mark": {"type": "text", "font": "Liberation Serif", "fontSize": 27.5, "color": "#111111", "align": "center", "baseline": "alphabetic"}, "encoding": {"text": {"field": "t"}}}]},
 {"transform": [{"filter": "datum.p == 3"}], "width": 303, "height": 272,
  "encoding": {
    "x": {"field": "x", "type": "quantitative", "scale": {"domain": [-40, 40], "nice": false, "zero": false}, "axis": {"orient": "top", "values": [-40,-30,-20,-10,0,10,20,30,40], "labelExpr": "'' + datum.value", "labelFlush": true, "labelFlushOffset": 4, "labelPadding": 3}},
    "y": {"field": "y", "type": "quantitative", "scale": {"domain": [-80, 0], "nice": false, "zero": false}, "axis": {"values": [0,-10,-20,-30,-40,-50,-60,-70,-80], "labelExpr": "'' + datum.value", "labelPadding": 4}}},
  "layer": [
    {"transform": [{"filter": "!datum.k"}], "mark": {"type": "line", "color": "#111111", "strokeWidth": 1.4, "interpolate": "catmull-rom", "clip": true}, "encoding": {"detail": {"field": "c", "type": "nominal"}, "order": {"value": null}}},
    {"transform": [{"filter": "datum.k == 'm'"}], "mark": {"type": "text", "font": "Liberation Serif", "fontSize": 27.5, "color": "#111111", "align": "center", "baseline": "alphabetic"}, "encoding": {"text": {"field": "t"}}}]},
 {"transform": [{"filter": "datum.p == 4"}], "width": 303, "height": 272,
  "encoding": {
    "x": {"field": "x", "type": "quantitative", "scale": {"domain": [-40, 40], "nice": false, "zero": false}, "axis": {"orient": "top", "values": [-40,-30,-20,-10,0,10,20,30,40], "labelExpr": "'' + datum.value", "labelFlush": true, "labelFlushOffset": 4, "labelPadding": 3}},
    "y": {"field": "y", "type": "quantitative", "scale": {"domain": [-80, 0], "nice": false, "zero": false}, "axis": {"values": [0,-10,-20,-30,-40,-50,-60,-70,-80], "labelExpr": "'' + datum.value", "labelPadding": 4}}},
  "layer": [
    {"transform": [{"filter": "!datum.k"}], "mark": {"type": "line", "color": "#111111", "strokeWidth": 1.4, "interpolate": "catmull-rom", "clip": true}, "encoding": {"detail": {"field": "c", "type": "nominal"}, "order": {"value": null}}},
    {"transform": [{"filter": "datum.k == 'm'"}], "mark": {"type": "text", "font": "Liberation Serif", "fontSize": 27.5, "color": "#111111", "align": "center", "baseline": "alphabetic"}, "encoding": {"text": {"field": "t"}}}]},
 {"transform": [{"filter": "datum.p == 5"}], "width": 303, "height": 272,
  "encoding": {
    "x": {"field": "x", "type": "quantitative", "scale": {"domain": [-40, 40], "nice": false, "zero": false}, "axis": {"orient": "top", "values": [-40,-30,-20,-10,0,10,20,30,40], "labelExpr": "'' + datum.value", "labelFlush": true, "labelFlushOffset": 4, "labelPadding": 3}},
    "y": {"field": "y", "type": "quantitative", "scale": {"domain": [-80, 0], "nice": false, "zero": false}, "axis": {"values": [0,-10,-20,-30,-40,-50,-60,-70,-80], "labelExpr": "'' + datum.value", "labelPadding": 4}}},
  "layer": [
    {"transform": [{"filter": "!datum.k"}], "mark": {"type": "line", "color": "#111111", "strokeWidth": 1.4, "interpolate": "catmull-rom", "clip": true}, "encoding": {"detail": {"field": "c", "type": "nominal"}, "order": {"value": null}}},
    {"transform": [{"filter": "datum.k == 'm'"}], "mark": {"type": "text", "font": "Liberation Serif", "fontSize": 27.5, "color": "#111111", "align": "center", "baseline": "alphabetic"}, "encoding": {"text": {"field": "t"}}}]},
 {"transform": [{"filter": "datum.p == 6"}], "width": 303, "height": 272,
  "encoding": {
    "x": {"field": "x", "type": "quantitative", "scale": {"domain": [-40, 40], "nice": false, "zero": false}, "axis": {"orient": "top", "values": [-40,-30,-20,-10,0,10,20,30,40], "labelExpr": "'' + datum.value", "labelFlush": true, "labelFlushOffset": 4, "labelPadding": 3}},
    "y": {"field": "y", "type": "quantitative", "scale": {"domain": [-80, 0], "nice": false, "zero": false}, "axis": {"values": [0,-10,-20,-30,-40,-50,-60,-70,-80], "labelExpr": "'' + datum.value", "labelPadding": 4}}},
  "layer": [
    {"transform": [{"filter": "!datum.k"}], "mark": {"type": "line", "color": "#111111", "strokeWidth": 1.4, "interpolate": "catmull-rom", "clip": true}, "encoding": {"detail": {"field": "c", "type": "nominal"}, "order": {"value": null}}},
    {"transform": [{"filter": "datum.k == 'm'"}], "mark": {"type": "text", "font": "Liberation Serif", "fontSize": 27.5, "color": "#111111", "align": "center", "baseline": "alphabetic"}, "encoding": {"text": {"field": "t"}}}]}
],
"config": {
  "view": {"stroke": "#333333", "strokeWidth": 1.2},
  "axis": {"grid": true, "gridColor": "#7f93b8", "gridWidth": 1, "gridOpacity": 0.9, "ticks": false, "domain": false,
    "labelFont": "Liberation Sans", "labelFontSize": 14, "labelColor": "#1a1a1a", "title": null}
}
}
